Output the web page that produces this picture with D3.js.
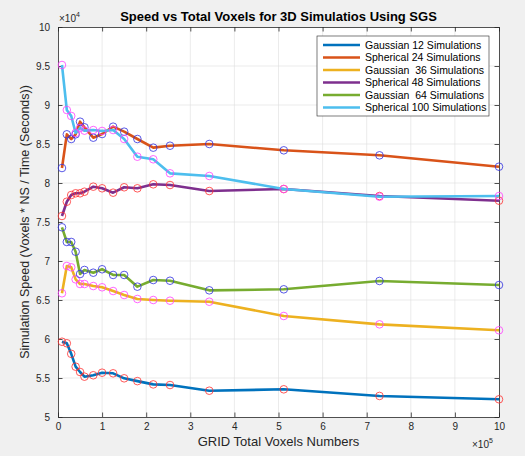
<!DOCTYPE html>
<meta charset="utf-8">
<style>
	body {
		margin: 0;
		background: #f0f0f0;
		font-family: "Liberation Sans", Arial, sans-serif;
	}
	.axis text {
		font-size: 10px;
		fill: #262626;
	}
	.grid line {
		stroke: #dedede;
		stroke-width: 0.6;
	}
</style>
<body>
<script src="https://d3js.org/d3.v7.min.js"></script>
<script>
	// x positions (total voxels) shared by every run
	var voxels = [9000, 20000, 30000, 40000, 50000, 60000, 80000, 100000, 125000, 150000,
		180000, 216000, 254000, 343000, 512000, 729000, 1000000];

	var gauss12 = [59650, 59450, 58100, 56450, 55770, 55170, 55350, 55680, 55600, 54960,
		54600, 54180, 54100, 53370, 53550, 52700, 52270];
	var spher24 = [81920, 86240, 85640, 86240, 87860, 87140, 85810, 86280, 87220, 86580,
		85640, 84530, 84780, 85000, 84190, 83550, 82090];
	var gauss36 = [65860, 69360, 69190, 67650, 67050, 67050, 66790, 66630, 66150, 65640,
		65130, 65000, 64910, 64780, 62950, 61880, 61120];
	var spher48 = [75770, 77600, 78460, 78680, 78680, 78880, 79530, 79320, 78760, 79450,
		79320, 79830, 79740, 78970, 79230, 78330, 77730];
	var gauss64 = [74320, 72440, 72440, 71190, 68330, 68850, 68500, 68940, 68210, 68210,
		66710, 67560, 67470, 66240, 66370, 67440, 66920];
	var spher100 = [95130, 89360, 88590, 86410, 87050, 86710, 86790, 86670, 86790, 85640,
		83370, 83040, 81240, 80900, 79230, 78240, 78330];

	var seriesNames = ["Gaussian 12 Simulations", "Spherical 24 Simulations", "Gaussian  36 Simulations",
		"Spherical 48 Simulations", "Gaussian  64 Simulations", "Spherical 100 Simulations"];
	var seriesValues = [gauss12, spher24, gauss36, spher48, gauss64, spher100];
	var lineColors = ["#0072bd", "#d95319", "#edb120", "#7e2f8e", "#77ac30", "#4dbeee"];
	var markerColors = ["#ff3030", "#3030e0", "#ff40ff", "#ff3030", "#3030e0", "#ff40ff"];

	var xTicks = [0, 1e5, 2e5, 3e5, 4e5, 5e5, 6e5, 7e5, 8e5, 9e5, 1e6];
	var yTicks = [50000, 55000, 60000, 65000, 70000, 75000, 80000, 85000, 90000, 95000, 100000];

	var margin = {top: 27, right: 26, bottom: 39, left: 58},
		width = 525 - margin.left - margin.right,
		height = 456 - margin.top - margin.bottom;

	var x = d3.scaleLinear().domain([0, 1e6]).range([0, width]);
	var y = d3.scaleLinear().domain([50000, 100000]).range([height, 0]);

	var svg = d3.select("body").append("svg")
		.attr("width", 525)
		.attr("height", 456)
		.append("g")
		.attr("transform", "translate(" + margin.left + "," + margin.top + ")");

	svg.append("rect")
		.attr("width", width)
		.attr("height", height)
		.attr("fill", "#fff");

	// grid
	svg.append("g").attr("class", "grid")
		.selectAll("line").data(xTicks.slice(1, -1)).enter().append("line")
		.attr("x1", function(d) { return x(d); })
		.attr("x2", function(d) { return x(d); })
		.attr("y1", 0).attr("y2", height);
	svg.append("g").attr("class", "grid")
		.selectAll("line").data(yTicks.slice(1, -1)).enter().append("line")
		.attr("y1", function(d) { return y(d); })
		.attr("y2", function(d) { return y(d); })
		.attr("x1", 0).attr("x2", width);

	var fmtX = function(d) { return d / 1e5; };
	var fmtY = function(d) { return d / 1e4; };

	svg.append("g")
		.attr("class", "x axis")
		.attr("transform", "translate(0," + height + ")")
		.call(d3.axisBottom(x).tickValues(xTicks).tickFormat(fmtX).tickSizeInner(-4.5).tickSizeOuter(0).tickPadding(6));
	svg.append("g")
		.attr("class", "x axis")
		.call(d3.axisTop(x).tickValues(xTicks).tickFormat("").tickSizeInner(-4.5).tickSizeOuter(0));
	svg.append("g")
		.attr("class", "y axis")
		.call(d3.axisLeft(y).tickValues(yTicks).tickFormat(fmtY).tickSizeInner(-4.5).tickSizeOuter(0).tickPadding(8));
	svg.append("g")
		.attr("class", "y axis")
		.attr("transform", "translate(" + width + ",0)")
		.call(d3.axisRight(y).tickValues(yTicks).tickFormat("").tickSizeInner(-4.5).tickSizeOuter(0));

	svg.selectAll(".axis path").attr("stroke", "#262626").attr("stroke-width", 0.8);
	svg.selectAll(".axis line").attr("stroke", "#262626").attr("stroke-width", 0.8);

	var line = d3.line()
		.x(function(d, i) { return x(voxels[i]); })
		.y(function(d) { return y(d); });

	seriesValues.forEach(function(vals, s) {
		svg.append("path")
			.datum(vals)
			.attr("fill", "none")
			.attr("stroke", lineColors[s])
			.attr("stroke-width", 2.6)
			.attr("stroke-linejoin", "round")
			.attr("d", line);
		svg.selectAll(".dot" + s)
			.data(vals)
			.enter().append("circle")
			.attr("class", "dot" + s)
			.attr("r", 3.8)
			.attr("cx", function(d, i) { return x(voxels[i]); })
			.attr("cy", function(d) { return y(d); })
			.attr("fill", "none")
			.attr("stroke", markerColors[s])
			.attr("stroke-width", 0.8);
	});

	// exponent labels
	var exp4 = svg.append("text")
		.attr("x", 1).attr("y", -5)
		.style("font-size", "10px").style("fill", "#262626");
	exp4.append("tspan").text("\u00d710");
	exp4.append("tspan").attr("dy", -5).style("font-size", "7px").text("4");

	var exp5 = svg.append("text")
		.attr("x", width - 27).attr("y", height + 31)
		.style("font-size", "10px").style("fill", "#262626");
	exp5.append("tspan").text("\u00d710");
	exp5.append("tspan").attr("dy", -5).style("font-size", "7px").text("5");

	// title and axis labels
	svg.append("text")
		.attr("x", width / 2).attr("y", -6)
		.attr("text-anchor", "middle")
		.style("font-size", "13px").style("font-weight", "bold").style("fill", "#000")
		.text("Speed vs Total Voxels for 3D Simulatios Using SGS");

	svg.append("text")
		.attr("x", width / 2).attr("y", height + 29)
		.attr("text-anchor", "middle")
		.style("font-size", "13px").style("fill", "#262626")
		.text("GRID Total Voxels Numbers");

	svg.append("text")
		.attr("transform", "translate(-29," + height / 2 + ") rotate(-90)")
		.attr("text-anchor", "middle")
		.style("font-size", "12.5px").style("fill", "#262626")
		.text("Simulation Speed (Voxels * NS / Time (Seconds))");

	// legend
	var legend = svg.append("g")
		.attr("transform", "translate(" + (317 - margin.left) + "," + (36 - margin.top) + ")");
	legend.append("rect")
		.attr("width", 172).attr("height", 80)
		.attr("fill", "#fff").attr("stroke", "#262626").attr("stroke-width", 0.6);
	var item = legend.selectAll(".legend")
		.data(seriesNames)
		.enter().append("g")
		.attr("class", "legend")
		.attr("transform", function(d, i) {
			return "translate(0," + (9 + i * 12.5) + ")";
		});
	item.append("line")
		.attr("x1", 6).attr("x2", 43)
		.attr("stroke", function(d, i) { return lineColors[i]; })
		.attr("stroke-width", 2.5);
	item.append("text")
		.attr("x", 48).attr("dy", "0.35em")
		.style("font-size", "10.5px").style("fill", "#000")
		.style("white-space", "pre")
		.text(function(d) { return d; });
</script>
</body>
